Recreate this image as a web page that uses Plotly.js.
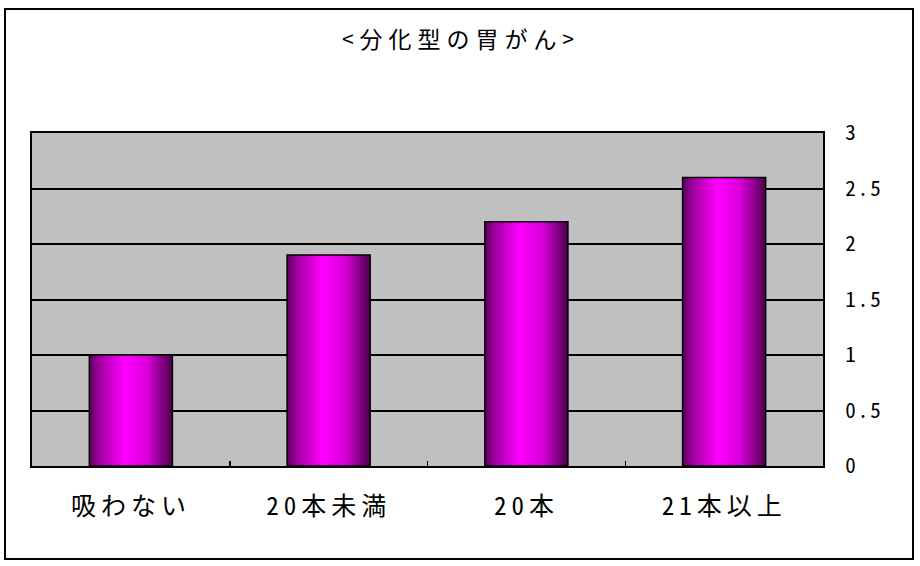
<!DOCTYPE html>
<html>
<head>
<meta charset="utf-8">
<script src="https://cdn.plot.ly/plotly-3.0.1.min.js"></script>
<style>
html,body{margin:0;padding:0;background:#fff;}
#chart{width:920px;height:566px;}
#chart .gtitle{letter-spacing:6px;}
#chart .xtick text{letter-spacing:5px;}
#chart .y2tick text, #chart .ytick text{letter-spacing:2px;}
</style>
</head>
<body>
<div id="chart"></div>
<script>
const categories = ["吸わない", "20本未満", "20本", "21本以上"];
const values = [1.0, 1.9, 2.2, 2.6];
const yTickVals = [0, 0.5, 1, 1.5, 2, 2.5, 3];
const yTickText = ["0", "0.5", "1", "1.5", "2", "2.5", "3"];
const titleText = "&lt;分化型の胃がん&gt;";

const font = "'Noto Sans Mono CJK JP', 'Noto Sans CJK JP', 'DejaVu Sans', sans-serif";
const plotW = 791, plotH = 333, ml = 32, mt = 133;
function px2x(p){ return (p - ml) / plotW; }
function px2y(p){ return 1 - (p - mt) / plotH; }

const trace = {
  type: "bar",
  x: categories,
  y: values,
  width: 0.42,
  marker: { color: "#ff00ff", line: { color: "#000", width: 1.5 } },
  hoverinfo: "skip"
};

const layout = {
  width: 920, height: 566,
  margin: { l: ml, r: 920 - ml - plotW, t: mt, b: 566 - mt - plotH, pad: 0 },
  paper_bgcolor: "#fff",
  plot_bgcolor: "#c0c0c0",
  showlegend: false,
  title: { text: titleText, x: 0.501, xanchor: "center", y: 0.929, yanchor: "middle",
           font: { family: font, size: 23, color: "#000" } },
  xaxis: {
    type: "category",
    showline: true, linecolor: "#000", linewidth: 2, mirror: true,
    ticks: "inside", tickson: "boundaries", ticklen: 5, tickcolor: "#000", tickwidth: 1.5,
    showgrid: false,
    ticklabelstandoff: 17,
    tickfont: { family: font, size: 25, color: "#000" }
  },
  yaxis: {
    side: "right",
    range: [0, 3],
    tickvals: yTickVals, ticktext: yTickText,
    showline: true, linecolor: "#000", linewidth: 2, mirror: true,
    showgrid: true, gridcolor: "#000", gridwidth: 2,
    ticks: "", ticklabelstandoff: 16,
    zeroline: false,
    tickfont: { family: font, size: 21, color: "#000" }
  },
  shapes: [{
    type: "rect", xref: "paper", yref: "paper",
    x0: px2x(5), x1: px2x(913), y0: px2y(9), y1: px2y(559),
    line: { color: "#000", width: 2 }, fillcolor: "rgba(0,0,0,0)", layer: "below"
  }]
};

Plotly.newPlot("chart", [trace], layout, { staticPlot: true, displayModeBar: false }).then(function(gd){
  const svg = gd.querySelector("svg.main-svg");
  const ns = "http://www.w3.org/2000/svg";
  let defs = svg.querySelector("defs");
  if (!defs) { defs = document.createElementNS(ns, "defs"); svg.insertBefore(defs, svg.firstChild); }
  const g = document.createElementNS(ns, "linearGradient");
  g.setAttribute("id", "barGrad");
  g.setAttribute("x1", "0"); g.setAttribute("x2", "1");
  g.setAttribute("y1", "0"); g.setAttribute("y2", "0");
  [[0, "#5a005a"], [0.12, "#a000a0"], [0.42, "#ff00ff"], [0.7, "#d800d8"], [1, "#4a004a"]].forEach(function(s){
    const st = document.createElementNS(ns, "stop");
    st.setAttribute("offset", s[0]);
    st.setAttribute("stop-color", s[1]);
    g.appendChild(st);
  });
  defs.appendChild(g);
  gd.querySelectorAll(".barlayer .point path").forEach(function(p){
    p.style.fill = "url(#barGrad)";
  });
});
</script>
</body>
</html>
